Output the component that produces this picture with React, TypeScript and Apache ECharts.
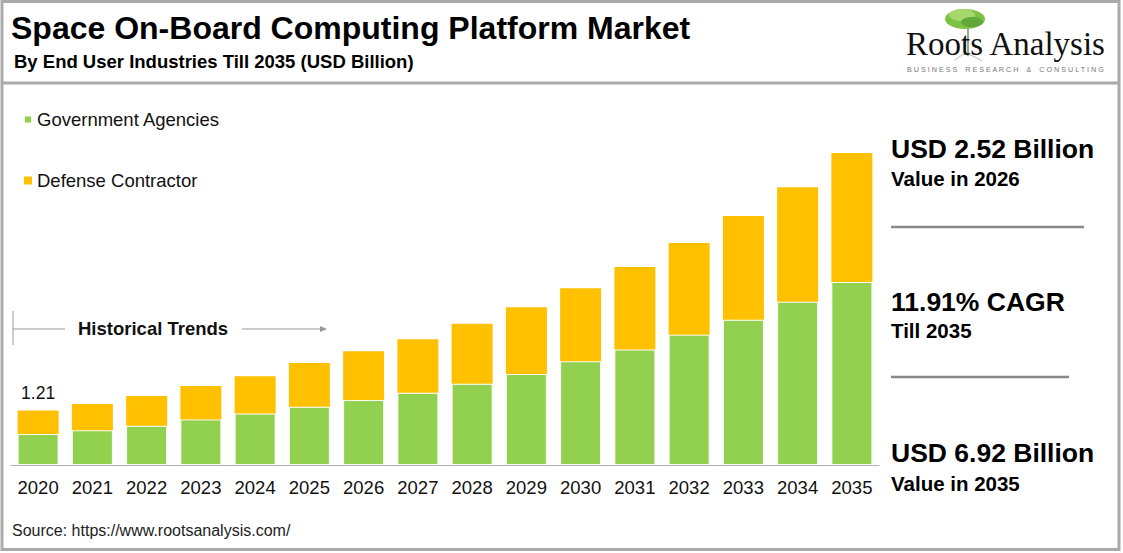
import React, { useEffect, useRef } from "react";
import * as echarts from "echarts";

const years = ["2020","2021","2022","2023","2024","2025","2026","2027","2028","2029","2030","2031","2032","2033","2034","2035"];
const government = [0.69,0.77,0.87,1.01,1.14,1.29,1.44,1.60,1.80,2.02,2.30,2.56,2.89,3.22,3.62,4.06];
const defense = [0.52,0.58,0.66,0.74,0.83,0.97,1.08,1.19,1.33,1.48,1.62,1.83,2.03,2.30,2.54,2.86];
const seriesNames = ["Government Agencies", "Defense Contractor"];
const firstLabel = "1.21";

const FONT = "Arial, 'Liberation Sans', sans-serif";

export default function App() {
  const ref = useRef<HTMLDivElement>(null);
  useEffect(() => {
    document.body.style.margin = "0";
    const chart = echarts.init(ref.current!, null, { renderer: "svg" });
    const txt = (text: string, x: number, y: number, size: number, weight: string = "normal", fill = "#000", extra: any = {}) => ({
      type: "text",
      x, y,
      silent: true,
      style: { text, fontSize: size, fontWeight: weight, fontFamily: FONT, fill, verticalAlign: "middle", ...extra },
    });
    chart.setOption({
      animation: false,
      backgroundColor: "#ffffff",
      textStyle: { fontFamily: FONT },
      legend: {
        orient: "vertical",
        left: 18,
        top: 105,
        itemWidth: 8,
        itemHeight: 8,
        itemGap: 42,
        icon: "rect",
        textStyle: { fontSize: 18.5, color: "#111", fontFamily: FONT },
        data: seriesNames,
      },
      grid: { left: 11, right: 1123 - 879, top: 465 - 7 * 45.1, bottom: 553 - 465, containLabel: false },
      xAxis: {
        type: "category",
        data: years,
        axisLine: { lineStyle: { color: "#b0b0b0", width: 1 } },
        axisTick: { show: false },
        axisLabel: { fontSize: 18.5, color: "#111", margin: 13, fontFamily: FONT },
      },
      yAxis: { type: "value", min: 0, max: 7, show: false, splitLine: { show: false } },
      series: [
        {
          name: seriesNames[0],
          type: "bar",
          stack: "total",
          data: government,
          barWidth: 41,
          itemStyle: { color: "#92D050", borderColor: "rgba(255,255,255,0.9)", borderWidth: 1 },
        },
        {
          name: seriesNames[1],
          type: "bar",
          stack: "total",
          barWidth: 41,
          data: defense.map((v, i) =>
            i === 0
              ? { value: v, label: { show: true, position: "top", formatter: firstLabel, fontSize: 17.5, color: "#111", distance: 8, fontFamily: FONT } }
              : v
          ),
          itemStyle: { color: "#FFC000" },
        },
      ],
      graphic: [
        { type: "rect", shape: { x: 2, y: 1.5, width: 1117, height: 548 }, style: { fill: "none", stroke: "#aaaaaa", lineWidth: 3 }, silent: true },
        { type: "line", shape: { x1: 2, y1: 83, x2: 1119, y2: 83 }, style: { stroke: "#aaaaaa", lineWidth: 3 }, silent: true },
        txt("Space On-Board Computing Platform Market", 11, 28, 32, "bold"),
        txt("By End User Industries Till 2035 (USD Billion)", 14, 61, 18.5, "bold"),
        // logo
        { type: "line", shape: { x1: 968, y1: 22, x2: 968, y2: 56 }, style: { stroke: "#7a8a6a", lineWidth: 1.5 }, silent: true },
        { type: "polyline", shape: { points: [[955, 60], [962, 55], [968, 54], [975, 57], [982, 61]] }, style: { stroke: "#b8b8b8", lineWidth: 1, fill: "none" }, silent: true },
        { type: "ellipse", shape: { cx: 965, cy: 19, rx: 20, ry: 10 }, style: { fill: "#7dc243" }, silent: true },
        { type: "ellipse", shape: { cx: 962, cy: 15, rx: 13, ry: 6 }, style: { fill: "#a6d86b" }, silent: true },
        { type: "ellipse", shape: { cx: 972, cy: 22, rx: 11, ry: 5 }, style: { fill: "#5fa83a" }, silent: true },
        txt("Roots Analysis", 906, 44, 33, "normal", "#111", { fontFamily: "'Liberation Serif', 'DejaVu Serif', serif" }),
        txt("B U S I N E S S    R E S E A R C H    &    C O N S U L T I N G", 907, 69, 7.2, "normal", "#777"),
        // historical trends
        { type: "line", shape: { x1: 13, y1: 311, x2: 13, y2: 345 }, style: { stroke: "#999", lineWidth: 1 }, silent: true },
        { type: "line", shape: { x1: 13, y1: 329, x2: 65, y2: 329 }, style: { stroke: "#999", lineWidth: 1 }, silent: true },
        txt("Historical Trends", 78, 328, 18.5, "bold", "#111"),
        { type: "line", shape: { x1: 242, y1: 329, x2: 322, y2: 329 }, style: { stroke: "#999", lineWidth: 1 }, silent: true },
        { type: "polygon", shape: { points: [[327, 329], [320, 326], [320, 332]] }, style: { fill: "#999" }, silent: true },
        // right panel
        txt("USD 2.52 Billion", 891, 149, 26.5, "bold"),
        txt("Value in 2026", 891, 178, 20.5, "bold"),
        { type: "line", shape: { x1: 891, y1: 227, x2: 1084, y2: 227 }, style: { stroke: "#888", lineWidth: 2.5 }, silent: true },
        txt("11.91% CAGR", 891, 302, 26.5, "bold"),
        txt("Till 2035", 891, 330, 20.5, "bold"),
        { type: "line", shape: { x1: 891, y1: 377, x2: 1069, y2: 377 }, style: { stroke: "#888", lineWidth: 2.5 }, silent: true },
        txt("USD 6.92 Billion", 891, 453, 26.5, "bold"),
        txt("Value in 2035", 891, 483, 20.5, "bold"),
        txt("Source: https://www.rootsanalysis.com/", 12, 530, 16, "normal", "#222"),
      ],
    });
    return () => chart.dispose();
  }, []);
  return <div ref={ref} style={{ width: 1123, height: 553 }} />;
}
